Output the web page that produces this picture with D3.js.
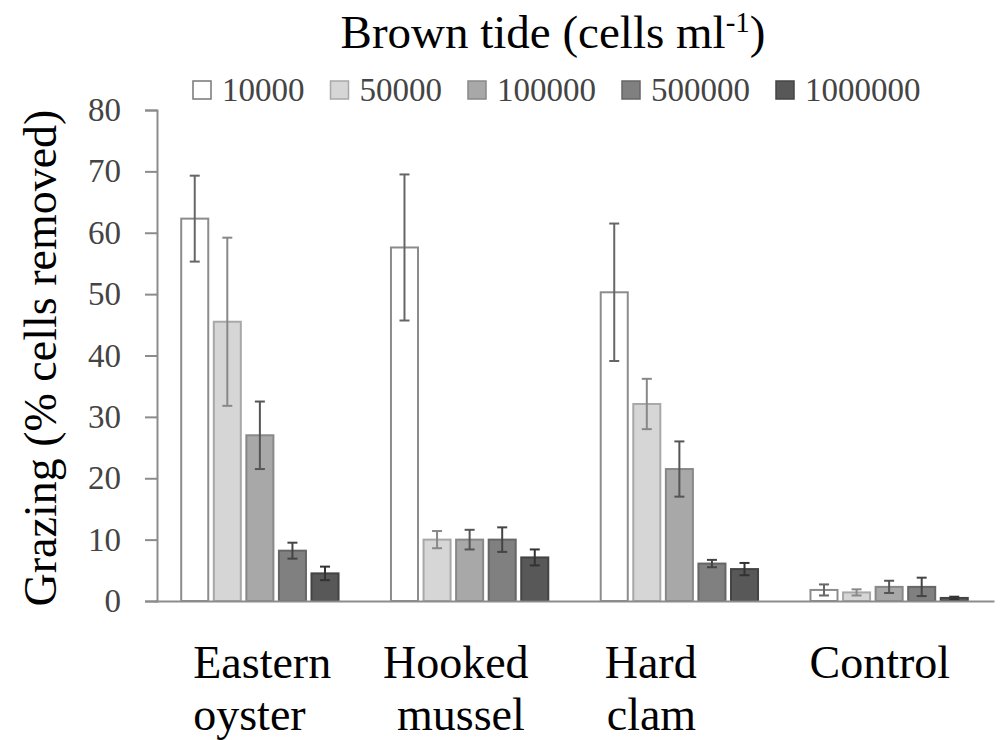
<!DOCTYPE html>
<html>
<head>
<meta charset="utf-8">
<script src="https://cdn.jsdelivr.net/npm/d3@7"></script>
<style>
  html, body { margin: 0; padding: 0; background: #fff; }
  svg { display: block; }
  svg text { font-family: "Liberation Serif", "Times New Roman", serif; }
</style>
</head>
<body>
<svg id="chart" width="1008" height="740"></svg>
<script>
// ---- data ----
const categories = ["Eastern oyster", "Hooked mussel", "Hard clam", "Control"];
const categoryLines = [["Eastern", "oyster"], ["Hooked", "mussel"], ["Hard", "clam"], ["Control"]];
const seriesNames = ["10000", "50000", "100000", "500000", "1000000"];
const s10000   = [62.3, 57.6, 50.3, 1.8];
const s50000   = [45.5, 10.0, 32.1, 1.4];
const s100000  = [27.0, 10.0, 21.5, 2.3];
const s500000  = [8.2, 10.0, 6.1, 2.3];
const s1000000 = [4.5, 7.1, 5.2, 0.5];
const e10000   = [7.0, 11.9, 11.2, 0.9];
const e50000   = [13.7, 1.4, 4.1, 0.5];
const e100000  = [5.5, 1.6, 4.5, 1.0];
const e500000  = [1.3, 2.0, 0.6, 1.5];
const e1000000 = [1.1, 1.3, 1.0, 0.2];
const yTicks = [0, 10, 20, 30, 40, 50, 60, 70, 80];

const seriesValues = [s10000, s50000, s100000, s500000, s1000000];
const seriesErrors = [e10000, e50000, e100000, e500000, e1000000];

// ---- styles ----
const fills   = ["#ffffff", "#d6d6d6", "#a8a8a8", "#808080", "#585858"];
const strokes = ["#8c8c8c", "#a8a8a8", "#888888", "#666666", "#444444"];
const errCol  = ["#666666", "#888888", "#555555", "#444444", "#333333"];
const serif = "'Liberation Serif', 'Times New Roman', serif";

const svg = d3.select("#chart");

const x0 = d3.scaleBand().domain(categories).range([155, 994])
  .paddingInner(0.25).paddingOuter(0.125);
const x1 = d3.scaleBand().domain(seriesNames).range([0, x0.bandwidth()])
  .paddingInner(0.17).paddingOuter(0);
const y = d3.scaleLinear().domain([0, 80]).range([601, 110]);

// y axis
const yAxis = svg.append("g").attr("transform", "translate(157,0)")
  .call(d3.axisLeft(y).tickValues(yTicks).tickSize(12).tickPadding(24));
yAxis.attr("font-family", null);
yAxis.select(".domain").attr("stroke", "#8c8c8c").attr("stroke-width", 2);
yAxis.selectAll(".tick line").attr("stroke", "#8c8c8c").attr("stroke-width", 2);
yAxis.selectAll(".tick text").style("font-family", serif).style("font-size", "33px")
  .attr("fill", "#444");

// bars
const groups = svg.append("g").selectAll("g").data(categories).join("g")
  .attr("transform", d => `translate(${x0(d)},0)`);

groups.each(function(cat, ci) {
  const g = d3.select(this);
  seriesNames.forEach((s, si) => {
    const v = seriesValues[si][ci];
    const e = seriesErrors[si][ci];
    const bx = x1(s), bw = x1.bandwidth();
    g.append("rect")
      .attr("x", bx).attr("y", y(v))
      .attr("width", bw).attr("height", y(0) - y(v))
      .attr("fill", fills[si]).attr("stroke", strokes[si]).attr("stroke-width", 2);
    const cx = bx + bw / 2;
    g.append("line").attr("x1", cx).attr("x2", cx)
      .attr("y1", y(v + e)).attr("y2", y(v - e))
      .attr("stroke", errCol[si]).attr("stroke-width", 2);
    [v + e, v - e].forEach(t => {
      g.append("line").attr("x1", cx - 5).attr("x2", cx + 5)
        .attr("y1", y(t)).attr("y2", y(t))
        .attr("stroke", errCol[si]).attr("stroke-width", 2);
    });
  });
});

// x axis line
const xAxis = svg.append("g").attr("transform", `translate(0,${y(0)})`)
  .call(d3.axisBottom(x0).tickSize(0).tickFormat(""));
xAxis.select(".domain").attr("stroke", "#8c8c8c").attr("stroke-width", 2);

// category labels
const labelOffsets = [12, -8, 4, -1];
const labelOffsets2 = [12, 6, 6, 0];
categories.forEach((c, i) => {
  const lines = categoryLines[i];
  lines.forEach((ln, li) => {
    svg.append("text")
      .attr("x", x0(c) + (li === 0 ? labelOffsets[i] : labelOffsets2[i]))
      .attr("y", 678 + li * 52)
      .style("font-family", serif).style("font-size", "46px").attr("fill", "#000")
      .text(ln);
  });
});

// y title
svg.append("text")
  .attr("transform", "translate(56,358) rotate(-90)")
  .attr("text-anchor", "middle")
  .style("font-family", serif).style("font-size", "46px").attr("fill", "#000")
  .text("Grazing (% cells removed)");

// top title
const title = svg.append("text")
  .attr("x", 553).attr("y", 48).attr("text-anchor", "middle")
  .style("font-family", serif).style("font-size", "47px").attr("fill", "#000");
title.append("tspan").text("Brown tide (cells ml");
title.append("tspan").attr("dy", -16).style("font-size", "29px").text("-1");
title.append("tspan").attr("dy", 16).text(")");

// legend
const legend = svg.append("g");
let lx = 193;
seriesNames.forEach((s, si) => {
  legend.append("rect").attr("x", lx).attr("y", 81).attr("width", 18).attr("height", 18)
    .attr("fill", fills[si]).attr("stroke", si === 0 ? "#777" : strokes[si])
    .attr("stroke-width", 1.5);
  const t = legend.append("text").attr("x", lx + 29).attr("y", 101)
    .style("font-family", serif).style("font-size", "33px").attr("fill", "#444").text(s);
  lx = lx + 29 + t.node().getComputedTextLength() + 26;
});
</script>
</body>
</html>
